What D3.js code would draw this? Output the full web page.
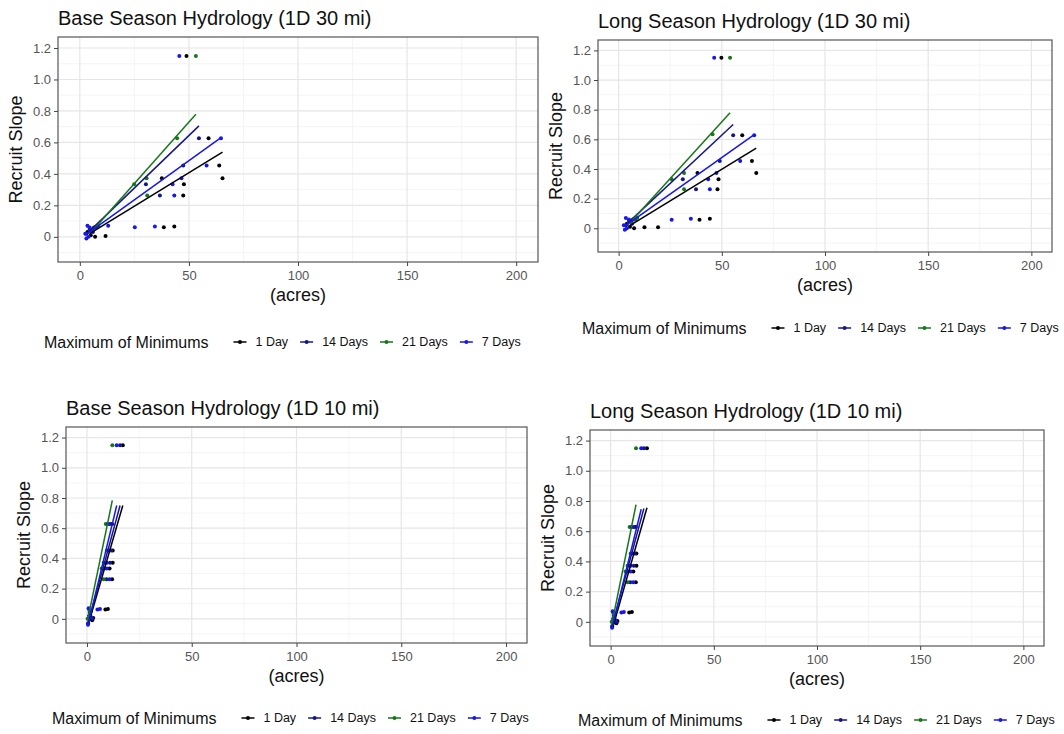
<!DOCTYPE html>
<html>
<head>
<meta charset="utf-8">
<script src="https://cdn.jsdelivr.net/npm/d3@7"></script>
<style>
  body { margin: 0; background: #fff; }
  text { font-family: "Liberation Sans", Arial, sans-serif; }
</style>
</head>
<body>
<svg id="chart" width="1064" height="734"></svg>
<script>
// ---- data ----
var seriesNames = ['1 Day', '14 Days', '21 Days', '7 Days'];

var xTicks = [0, 50, 100, 150, 200];
var xTickLabels = ['0', '50', '100', '150', '200'];
var xMinor = [25, 75, 125, 175];
var yTicks = [0, 0.2, 0.4, 0.6, 0.8, 1.0, 1.2];
var yTickLabels = ['0', '0.2', '0.4', '0.6', '0.8', '1.0', '1.2'];
var yMinor = [-0.1, 0.1, 0.3, 0.5, 0.7, 0.9, 1.1];

// Base season, 30 mi : [acres, recruit slope]
var base30_1day = [[3.5,0.03],[5,0.01],[6.5,0.06],[7,0.0],[5.5,0.045],[11.8,0.006],[38.5,0.061],[43.3,0.065],[47.4,0.262],[47.7,0.334],[37.6,0.372],[65.4,0.372],[63.9,0.453],[59,0.627],[48.9,1.15]];
var base30_14day = [[3,0.02],[4.5,0.05],[6,0.03],[7.5,0.06],[30.3,0.334],[36.7,0.262],[47.4,0.453],[54.6,0.627]];
var base30_21day = [[7,0.06],[8.5,0.07],[5.5,0.04],[24.9,0.334],[30.6,0.372],[30.9,0.262],[44.6,0.627],[53.2,1.15]];
var base30_7day = [[2.5,0.02],[3.5,0.07],[4,0.0],[4.5,0.06],[3,-0.01],[13,0.07],[25.2,0.061],[34.4,0.065],[42.5,0.334],[43.3,0.262],[46.6,0.372],[58.1,0.453],[64.7,0.627],[45.6,1.15]];
// fitted lines: [x0, y0, x1, y1] per series
var base30_fits = [[4.5,0.02,65.4,0.538],[4,0.03,54.6,0.705],[6.5,0.05,53.2,0.779],[3,0.015,64.7,0.63]];

// Long season, 30 mi
var long30_1day = [[4,0.03],[5.5,0.01],[7,0.06],[7.5,0.0],[6,0.045],[12.5,0.007],[19.1,0.007],[39.2,0.058],[44.2,0.065],[47.9,0.263],[48.4,0.33],[38.2,0.373],[66.7,0.373],[64.6,0.454],[59.9,0.627],[49.8,1.15]];
var long30_14day = [[3.5,0.02],[5,0.05],[6.5,0.03],[8,0.06],[31.1,0.33],[37.5,0.263],[49,0.454],[55.5,0.627]];
var long30_21day = [[7.5,0.06],[9,0.07],[6,0.04],[25.7,0.33],[31.7,0.373],[31.7,0.263],[45.5,0.634],[54,1.15]];
var long30_7day = [[2.5,0.02],[3.5,0.07],[4,0.0],[5,0.06],[3,-0.01],[25.7,0.058],[35,0.065],[43.4,0.33],[44.2,0.263],[47.4,0.373],[58.9,0.454],[65.7,0.627],[46.3,1.15]];
var long30_fits = [[5,0.015,66.7,0.541],[4,0.03,55.5,0.70],[6.6,0.054,54,0.78],[3,0.015,65.7,0.632]];

// Base season, 10 mi
var base10_1day = [[0.8,0.0],[1.5,0.02],[2.5,-0.01],[3,0.005],[8.8,0.061],[10,0.065],[12,0.262],[10.8,0.334],[12.3,0.372],[12.3,0.453],[12,0.627],[17.1,1.15]];
var base10_14day = [[0.5,-0.03],[1,0.02],[1.8,0.05],[2.5,0.0],[9.3,0.262],[8.2,0.334],[11,0.372],[11.5,0.453],[11,0.627],[15.8,1.15]];
var base10_21day = [[0.3,0.0],[1,0.06],[1.5,0.03],[8,0.262],[7,0.334],[8,0.372],[9.5,0.453],[9,0.627],[12.1,1.15]];
var base10_7day = [[0.5,-0.04],[0.8,0.07],[1.3,0.04],[2,0.01],[5,0.061],[6.2,0.065],[10.7,0.262],[9.5,0.334],[9.5,0.372],[10.5,0.453],[10,0.627],[14.2,1.15]];
var base10_fits = [[0.8,-0.03,17.1,0.75],[0.5,-0.03,15.8,0.75],[0.3,-0.01,12.1,0.784],[0.5,-0.04,14.2,0.75]];

// Long season, 10 mi
var long10_1day = [[1,0.0],[1.8,0.02],[2.8,-0.01],[3.3,0.005],[9,0.061],[10.3,0.065],[12.2,0.262],[11,0.334],[12.5,0.372],[12.5,0.453],[12.2,0.627],[17.6,1.15]];
var long10_14day = [[0.7,-0.03],[1.2,0.02],[2,0.05],[2.8,0.0],[9.5,0.262],[8.4,0.334],[11.2,0.372],[11.7,0.453],[11.2,0.627],[16.1,1.15]];
var long10_21day = [[0.5,0.0],[1.2,0.06],[1.7,0.03],[8.2,0.262],[7.2,0.334],[8.2,0.372],[9.7,0.453],[9.2,0.627],[12.3,1.15]];
var long10_7day = [[0.7,-0.04],[1,0.07],[1.5,0.04],[2.2,0.01],[5.2,0.061],[6.4,0.065],[10.9,0.262],[9.7,0.334],[9.7,0.372],[10.7,0.453],[10.2,0.627],[14.8,1.15]];
var long10_fits = [[1.1,-0.035,17.6,0.755],[0.7,-0.03,16.1,0.75],[0.5,-0.02,12.3,0.776],[0.7,-0.04,14.8,0.745]];

// ---- styles & layout ----
var seriesColors = ['#000000', '#16168a', '#17761a', '#1616ee'];
var xDomain = [-10, 210];
var yDomain = [-0.16, 1.27];

var panels = [
  { id: 'p1', title: 'Base Season Hydrology (1D 30 mi)', series: [base30_1day, base30_14day, base30_21day, base30_7day], fits: base30_fits,
    left: 58, right: 538, top: 37, bottom: 262, clip: [0, 0, 545, 367], legend: [44, 342] },
  { id: 'p2', title: 'Long Season Hydrology (1D 30 mi)', series: [long30_1day, long30_14day, long30_21day, long30_7day], fits: long30_fits,
    left: 598, right: 1052, top: 40, bottom: 252, clip: [545, 0, 519, 367], legend: [582, 328] },
  { id: 'p3', title: 'Base Season Hydrology (1D 10 mi)', series: [base10_1day, base10_14day, base10_21day, base10_7day], fits: base10_fits,
    left: 66, right: 527, top: 427, bottom: 643, clip: [0, 367, 538, 367], legend: [52, 718] },
  { id: 'p4', title: 'Long Season Hydrology (1D 10 mi)', series: [long10_1day, long10_14day, long10_21day, long10_7day], fits: long10_fits,
    left: 590, right: 1044, top: 430, bottom: 646, clip: [538, 367, 526, 367], legend: [578, 720] }
];

var svg = d3.select('#chart');
svg.append('rect').attr('width', 1064).attr('height', 734).attr('fill', '#fff');
var defs = svg.append('defs');

panels.forEach(function(p) {
  defs.append('clipPath').attr('id', 'clip-' + p.id)
    .append('rect')
    .attr('x', p.clip[0]).attr('y', p.clip[1])
    .attr('width', p.clip[2]).attr('height', p.clip[3]);

  var g = svg.append('g').attr('clip-path', 'url(#clip-' + p.id + ')');

  var x = d3.scaleLinear().domain(xDomain).range([p.left, p.right]);
  var y = d3.scaleLinear().domain(yDomain).range([p.bottom, p.top]);

  // grid
  var grid = g.append('g');
  grid.selectAll('.ymin').data(yMinor).enter().append('line')
    .attr('x1', p.left).attr('x2', p.right)
    .attr('y1', d => y(d)).attr('y2', d => y(d))
    .attr('stroke', '#f3f3f3').attr('stroke-width', 0.8);
  grid.selectAll('.xmin').data(xMinor).enter().append('line')
    .attr('y1', p.top).attr('y2', p.bottom)
    .attr('x1', d => x(d)).attr('x2', d => x(d))
    .attr('stroke', '#f3f3f3').attr('stroke-width', 0.8);
  grid.selectAll('.ymaj').data(yTicks).enter().append('line')
    .attr('x1', p.left).attr('x2', p.right)
    .attr('y1', d => y(d)).attr('y2', d => y(d))
    .attr('stroke', '#e6e6e6').attr('stroke-width', 1.2);
  grid.selectAll('.xmaj').data(xTicks).enter().append('line')
    .attr('y1', p.top).attr('y2', p.bottom)
    .attr('x1', d => x(d)).attr('x2', d => x(d))
    .attr('stroke', '#e6e6e6').attr('stroke-width', 1.2);

  // points
  p.series.forEach(function(pts, si) {
    g.append('g').selectAll('circle').data(pts).enter().append('circle')
      .attr('cx', d => x(d[0])).attr('cy', d => y(d[1]))
      .attr('r', 2)
      .attr('fill', seriesColors[si]);
  });

  // fitted lines
  g.append('g').selectAll('line').data(p.fits).enter().append('line')
    .attr('x1', d => x(d[0])).attr('y1', d => y(d[1]))
    .attr('x2', d => x(d[2])).attr('y2', d => y(d[3]))
    .attr('stroke', (d, i) => seriesColors[i])
    .attr('stroke-width', 1.5);

  // panel border
  g.append('rect')
    .attr('x', p.left).attr('y', p.top)
    .attr('width', p.right - p.left).attr('height', p.bottom - p.top)
    .attr('fill', 'none').attr('stroke', '#555').attr('stroke-width', 1.2);

  // axes
  var xAxis = d3.axisBottom(x).tickValues(xTicks).tickSize(4).tickPadding(5)
    .tickFormat((d, i) => xTickLabels[i]);
  var yAxis = d3.axisLeft(y).tickValues(yTicks).tickSize(4).tickPadding(3)
    .tickFormat((d, i) => yTickLabels[i]);

  var gx = g.append('g').attr('transform', 'translate(0,' + p.bottom + ')').call(xAxis);
  var gy = g.append('g').attr('transform', 'translate(' + p.left + ',0)').call(yAxis);
  [gx, gy].forEach(function(a) {
    a.select('.domain').remove();
    a.selectAll('.tick line').attr('stroke', '#444');
    a.selectAll('.tick text').attr('fill', '#555').style('font-size', '13px')
      .style('font-family', '"Liberation Sans", Arial, sans-serif');
  });

  // title & axis labels
  g.append('text').attr('x', p.left).attr('y', p.top - 12)
    .style('font-size', '20px').attr('fill', '#111').text(p.title);
  g.append('text')
    .attr('transform', 'translate(' + (p.left - 36) + ',' + ((p.top + p.bottom) / 2) + ') rotate(-90)')
    .attr('text-anchor', 'middle').style('font-size', '18px').attr('fill', '#111')
    .text('Recruit Slope');
  g.append('text').attr('x', (p.left + p.right) / 2).attr('y', p.bottom + 39)
    .attr('text-anchor', 'middle').style('font-size', '18px').attr('fill', '#111')
    .text('(acres)');

  // legend
  var lg = g.append('g').attr('transform', 'translate(' + p.legend[0] + ',' + p.legend[1] + ')');
  var lt = lg.append('text').attr('x', 0).attr('y', 0).attr('dy', '0.35em')
    .style('font-size', '16px').attr('fill', '#111').text('Maximum of Minimums');
  var cx = lt.node().getComputedTextLength() + 25;
  seriesNames.forEach(function(name, si) {
    lg.append('line').attr('x1', cx).attr('x2', cx + 13).attr('y1', 0).attr('y2', 0)
      .attr('stroke', seriesColors[si]).attr('stroke-width', 1.5);
    lg.append('circle').attr('cx', cx + 6.5).attr('cy', 0).attr('r', 2).attr('fill', seriesColors[si]);
    var t = lg.append('text').attr('x', cx + 22).attr('y', 0).attr('dy', '0.35em')
      .style('font-size', '12.5px').attr('fill', '#111').text(name);
    cx += 22 + t.node().getComputedTextLength() + 12;
  });
});
</script>
</body>
</html>
